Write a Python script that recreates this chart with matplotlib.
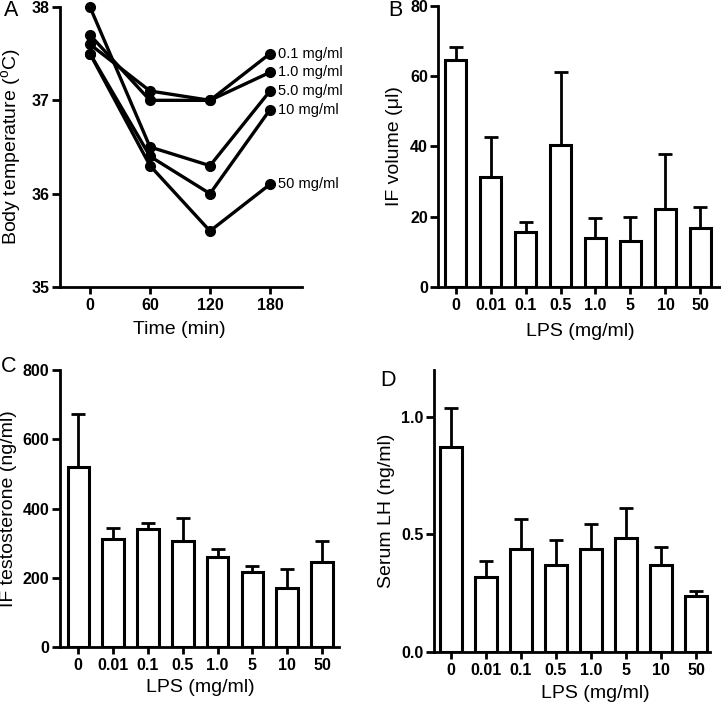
import matplotlib
matplotlib.use("Agg")
import matplotlib.pyplot as plt
import numpy as np

plt.rcParams['font.family'] = ['Liberation Sans', 'DejaVu Sans']
plt.rcParams['mathtext.fontset'] = 'custom'
plt.rcParams['mathtext.rm'] = 'Liberation Sans'

# ---------------- data ----------------
time_min = [0, 60, 120, 180]
temp_labels = ["0.1 mg/ml", "1.0 mg/ml", "5.0 mg/ml", "10 mg/ml", "50 mg/ml"]
temp_01 = [37.6, 37.1, 37.0, 37.5]
temp_10 = [37.7, 37.0, 37.0, 37.3]
temp_50 = [38.0, 36.5, 36.3, 37.1]
temp_100 = [37.5, 36.4, 36.0, 36.9]
temp_500 = [37.5, 36.3, 35.6, 36.1]

lps_labels = ["0", "0.01", "0.1", "0.5", "1.0", "5", "10", "50"]

if_volume = [64.5, 31.3, 15.7, 40.3, 14.0, 13.0, 22.3, 16.9]
if_volume_err = [3.7, 11.5, 2.9, 20.9, 5.6, 6.9, 15.7, 6.0]

if_testo = [519, 311, 342, 308, 261, 218, 172, 245]
if_testo_err = [154, 32, 16, 64, 23, 17, 54, 61]

serum_lh = [0.870, 0.318, 0.437, 0.370, 0.437, 0.484, 0.370, 0.237]
serum_lh_err = [0.166, 0.067, 0.128, 0.104, 0.106, 0.126, 0.077, 0.021]

# ---------------- style ----------------
W, H = 721, 702
fig = plt.figure(figsize=(W / 100, H / 100), dpi=100)

SPINE_LW = 2.0
TICK_FS = 11.5
LABEL_FS = 14


def rect(x0, x1, y0, y1):
    return [x0 / W, 1 - y1 / H, (x1 - x0) / W, (y1 - y0) / H]


def style_axes(ax):
    for s in ['top', 'right']:
        ax.spines[s].set_visible(False)
    for s in ['left', 'bottom']:
        ax.spines[s].set_linewidth(SPINE_LW)
    ax.tick_params(axis='y', length=6, width=SPINE_LW, pad=1.5, labelsize=TICK_FS)
    ax.tick_params(axis='x', length=5, width=SPINE_LW, pad=3, labelsize=TICK_FS)
    for lab in ax.get_xticklabels() + ax.get_yticklabels():
        lab.set_fontweight('bold')


def bar_panel(ax, vals, errs, ylabel):
    x = np.arange(len(vals))
    ax.bar(x, vals, width=0.62, color='white', edgecolor='black', linewidth=2.2, zorder=2)
    ax.errorbar(x, vals, yerr=[np.zeros(len(vals)), errs], fmt='none', ecolor='black',
                elinewidth=2.0, capsize=5, capthick=2.0, zorder=3)
    ax.set_xticks(x)
    ax.set_xticklabels(lps_labels)
    ax.set_xlabel("LPS (mg/ml)", fontsize=LABEL_FS)
    ax.set_ylabel(ylabel, fontsize=LABEL_FS)


# ---------------- A ----------------
axA = fig.add_axes(rect(60, 302, 7, 287))
series = [temp_01, temp_10, temp_50, temp_100, temp_500]
for vals, lab in zip(series, temp_labels):
    axA.plot(time_min, vals, color='black', lw=2.4, marker='o', ms=7, clip_on=False, zorder=3)
    axA.annotate(lab, (time_min[-1], vals[-1]), xytext=(6, 0), textcoords='offset points',
                 va='center', ha='left', fontsize=10.5)
axA.set_xlim(-30, 212)
axA.set_ylim(35, 38)
axA.set_xticks(time_min)
axA.set_yticks([35, 36, 37, 38])
axA.set_xlabel("Time (min)", fontsize=LABEL_FS)
axA.set_ylabel("Body temperature ($^{\\mathrm{o}}$C)", fontsize=LABEL_FS)
style_axes(axA)

# ---------------- B ----------------
axB = fig.add_axes(rect(438.5, 721, 6, 287))
bar_panel(axB, if_volume, if_volume_err, "IF volume (\u03bcl)")
axB.set_xlim(-0.486, 7.586)
axB.set_ylim(0, 80)
axB.set_yticks([0, 20, 40, 60, 80])
style_axes(axB)

# ---------------- C ----------------
axC = fig.add_axes(rect(60, 339, 370, 647.3))
bar_panel(axC, if_testo, if_testo_err, "IF testosterone (ng/ml)")
axC.set_xlim(-0.526, 7.49)
axC.set_ylim(0, 800)
axC.set_yticks([0, 200, 400, 600, 800])
style_axes(axC)

# ---------------- D ----------------
axD = fig.add_axes(rect(434, 710, 370, 651.5))
bar_panel(axD, serum_lh, serum_lh_err, "Serum LH (ng/ml)")
axD.set_xlim(-0.476, 7.39)
axD.set_ylim(0, 1.2)
axD.set_yticks([0.0, 0.5, 1.0])
axD.set_yticklabels(["0.0", "0.5", "1.0"])
style_axes(axD)

# ---------------- label positions ----------------
def place_labels(ax, x0, x1, y0, y1, ylab_cx, xlab_cx, xlab_cy):
    ax.yaxis.label.set_va('center')
    ax.yaxis.set_label_coords((ylab_cx - x0) / (x1 - x0), 0.5)
    ax.xaxis.label.set_va('center')
    ax.xaxis.set_label_coords((xlab_cx - x0) / (x1 - x0), (y1 - xlab_cy) / (y1 - y0))

place_labels(axA, 60, 302, 7, 287, 12, 179, 330)
place_labels(axB, 438.5, 721, 6, 287, 395, 580, 332)
place_labels(axC, 60, 339, 370, 647.3, 9, 200, 687)
place_labels(axD, 434, 710, 370, 651.5, 387, 595, 694)

# panel letters
for letter, px, py in [("A", 11, 11), ("B", 395, 11), ("C", 9, 367), ("D", 388, 381)]:
    fig.text(px / W, 1 - py / H, letter, fontsize=15.5, ha='center', va='center')

fig.savefig("out.png", dpi=100)
